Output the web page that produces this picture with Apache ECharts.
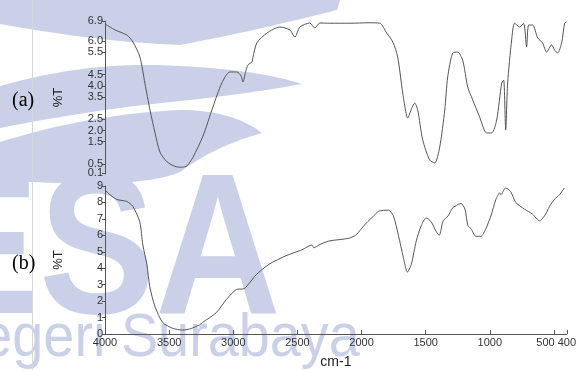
<!DOCTYPE html>
<html><head><meta charset="utf-8">
<script src="https://cdn.jsdelivr.net/npm/echarts@6/dist/echarts.min.js"></script>
<style>html,body{margin:0;padding:0;background:#fff}#c{width:579px;height:370px}</style>
</head><body><div id="c"></div>
<script>
// Spectrum (a)
const wnA = [4000,3922,3830,3783,3729,3690,3651,3612,3574,3519,3442,3400,3364,3318,3240,3163,3093,3031,2977,2945,2930,2910,2891,2860,2853,2822,2744,2643,2566,2527,2488,2411,2372,2333,2256,2100,1950,1868,1814,1767,1729,1690,1651,1620,1597,1574,1535,1481,1442,1403,1364,1341,1302,1264,1225,1186,1147,1093,1039,1000,961,922,907,891,876,845,822,783,752,729,713,682,643,605,574,535,512,488,457,434,420];
const tA  = [6.77,6.5,6.27,5.96,5.29,4.1,2.92,1.9,1.04,0.6,0.37,0.36,0.42,0.8,1.75,3.05,4.13,4.62,4.62,4.45,4.17,4.6,4.93,5.07,5.25,5.92,6.36,6.63,6.5,6.18,6.63,6.81,6.59,6.81,6.8,6.8,6.82,6.8,6.36,5.96,5.29,3.68,2.56,3.0,3.23,2.92,1.58,0.68,0.55,1.26,2.92,4.4,5.47,5.51,5.15,3.95,3.37,2.6,1.89,1.89,2.47,4.13,4.26,2.02,4.13,6.05,6.8,6.63,6.8,5.74,6.72,6.72,6.14,5.92,5.51,5.83,5.6,5.47,5.92,6.8,6.85];
// Spectrum (b)
const wnB = [4000,3961,3907,3830,3783,3729,3705,3674,3651,3612,3550,3473,3395,3341,3264,3240,3132,3054,2977,2915,2822,2721,2589,2465,2388,2372,2333,2256,2101,2047,1969,1891,1868,1791,1752,1713,1674,1643,1612,1574,1535,1496,1457,1419,1395,1364,1326,1287,1271,1248,1225,1194,1171,1147,1109,1070,1031,992,953,922,915,876,837,798,729,667,613,574,535,496,457,419];
const tB  = [8.76,8.47,8.18,8.06,7.76,6.82,5.41,4.24,2.88,1.71,0.7,0.35,0.24,0.3,0.55,0.7,1.3,2.1,2.7,2.76,3.6,4.24,4.76,5.12,5.41,5.24,5.41,5.65,5.82,6.0,6.7,7.29,7.47,7.53,7.18,6.0,4.65,3.76,4.24,5.65,6.59,7.06,6.82,6.24,6.0,6.88,7.18,7.7,7.76,7.88,7.94,7.59,6.59,6.41,5.94,5.94,6.41,7.18,8.18,8.59,8.47,8.88,8.65,8.0,7.59,7.29,6.88,7.18,7.76,8.18,8.47,8.88];
// Tick labels
const ticksYA = [0.5,1.5,2.0,2.5,3.5,4.0,4.5,5.5,6.0,6.9];
const ticksYAlow = [0.1];
const ticksYB = [0,1,2,3,4,5,6,7,8,9];
const ticksX  = [4000,3500,3000,2500,2000,1500,1000,500,400];

const minA = 0.05;
const pairsA = wnA.map((w,i)=>[w,tA[i]]);
const pairsB = wnB.map((w,i)=>[w,tB[i]]);

// watermark helper: sample quadratic bezier segments into polygon points
function swoosh(segs){
  const pts=[];
  segs.forEach(s=>{
    const [p0,c,p1]=s;
    for(let k=0;k<=16;k++){
      const t=k/16, u=1-t;
      pts.push([u*u*p0[0]+2*u*t*c[0]+t*t*p1[0], u*u*p0[1]+2*u*t*c[1]+t*t*p1[1]]);
    }
  });
  return pts;
}
const WM = '#cad0e8';
const axisCol = '#555';
const lab = {color:'#333', fontFamily:'Liberation Sans, Arial', fontSize:11};

const chart = echarts.init(document.getElementById('c'), null, {renderer:'canvas'});
chart.setOption({
  animation:false,
  backgroundColor:'#fff',
  graphic:[
    {type:'polygon', z:-10, silent:true, shape:{points:[[0,0],[340,0],[337,10]].concat(swoosh([[[337,10],[250,32],[180,45]],[[180,45],[100,42],[0,24]]]))}, style:{fill:WM}},
    {type:'polygon', z:-10, silent:true, shape:{points:swoosh([[[0,86],[90,60],[180,66]],[[180,66],[260,70],[302,84]],[[302,84],[240,95],[180,101]],[[180,101],[90,110],[0,128]]])}, style:{fill:WM}},
    {type:'polygon', z:-10, silent:true, shape:{points:swoosh([[[0,142],[90,114],[180,110]],[[180,110],[232,110],[262,133]],[[262,133],[215,146],[180,172]],[[180,172],[140,190],[0,180]]])}, style:{fill:WM}},
    {type:'text', z:-10, silent:true, x:-77, y:158, scaleX:0.87, style:{text:'ESA', font:'bold 200px Liberation Sans', fill:WM}},
    {type:'text', z:-10, silent:true, x:-59, y:308, scaleX:0.9, style:{text:'Negeri Surabaya', font:'62px Liberation Sans', fill:WM}},
    {type:'line', z:-5, silent:true, shape:{x1:32.5,y1:0,x2:32.5,y2:370}, style:{stroke:'#d6d6d6', lineWidth:1}},
    {type:'text', left:12, top:91, style:{text:'(a)', font:'20px Liberation Serif', fill:'#000'}},
    {type:'text', left:12, top:254, style:{text:'(b)', font:'20px Liberation Serif', fill:'#000'}}
  ],
  grid:[
    {left:105, right:10, top:21, height:153.1},
    {left:105, right:10, top:186, height:153},
    {left:105, right:10, top:21, height:153.1}
  ],
  xAxis:[
    {type:'value', gridIndex:0, min:400, max:4000, inverse:true, show:false},
    {type:'value', gridIndex:1, min:400, max:4000, inverse:true,
     name:'cm-1', nameLocation:'middle', nameGap:21,
     nameTextStyle:{color:'#222', fontFamily:'Liberation Sans, Arial', fontSize:14},
     axisLine:{lineStyle:{color:axisCol}},
     axisTick:{inside:true, length:4, customValues:ticksX, lineStyle:{color:axisCol}},
     axisLabel:Object.assign({}, lab, {margin:3, customValues:ticksX, showMinLabel:true, showMaxLabel:true,
        formatter:v=> v===500 ? '{s|500}' : String(v),
        rich:{s:{padding:[0,17,0,0], fontSize:11, fontFamily:'Liberation Sans, Arial', color:'#333'}}}),
     splitLine:{show:false}},
    {type:'value', gridIndex:2, min:400, max:4000, inverse:true, show:false}
  ],
  yAxis:[
    {type:'value', gridIndex:0, min:minA, max:6.9,
     name:'%T', nameLocation:'middle', nameGap:40, nameRotate:90,
     nameTextStyle:{color:'#222', fontFamily:'Liberation Sans, Arial', fontSize:13},
     axisLine:{show:true, lineStyle:{color:axisCol}},
     axisTick:{show:true, length:3, customValues:ticksYA, lineStyle:{color:axisCol}},
     axisLabel:Object.assign({}, lab, {margin:2, customValues:ticksYA, hideOverlap:false, formatter:v=>v.toFixed(1)}),
     splitLine:{show:false}},
    {type:'value', gridIndex:1, min:0, max:9,
     name:'%T', nameLocation:'middle', nameGap:40, nameRotate:90,
     nameTextStyle:{color:'#222', fontFamily:'Liberation Sans, Arial', fontSize:13},
     axisLine:{show:true, lineStyle:{color:axisCol}},
     axisTick:{show:true, length:3, customValues:ticksYB, lineStyle:{color:axisCol}},
     axisLabel:Object.assign({}, lab, {margin:2, customValues:ticksYB, showMinLabel:true, showMaxLabel:true}),
     splitLine:{show:false}},
    {type:'value', gridIndex:2, min:minA, max:6.9,
     axisLine:{show:false},
     axisTick:{show:true, length:3, customValues:ticksYAlow, lineStyle:{color:axisCol}},
     axisLabel:Object.assign({}, lab, {margin:2, customValues:ticksYAlow, showMinLabel:true, showMaxLabel:true, formatter:v=>v.toFixed(1)}),
     splitLine:{show:false}}
  ],
  series:[
    {type:'line', xAxisIndex:0, yAxisIndex:0, data:pairsA, showSymbol:false, smooth:0.25,
     lineStyle:{color:'#555', width:1}},
    {type:'line', xAxisIndex:1, yAxisIndex:1, data:pairsB, showSymbol:false, smooth:0.25,
     lineStyle:{color:'#555', width:1}}
  ]
});
</script></body></html>
